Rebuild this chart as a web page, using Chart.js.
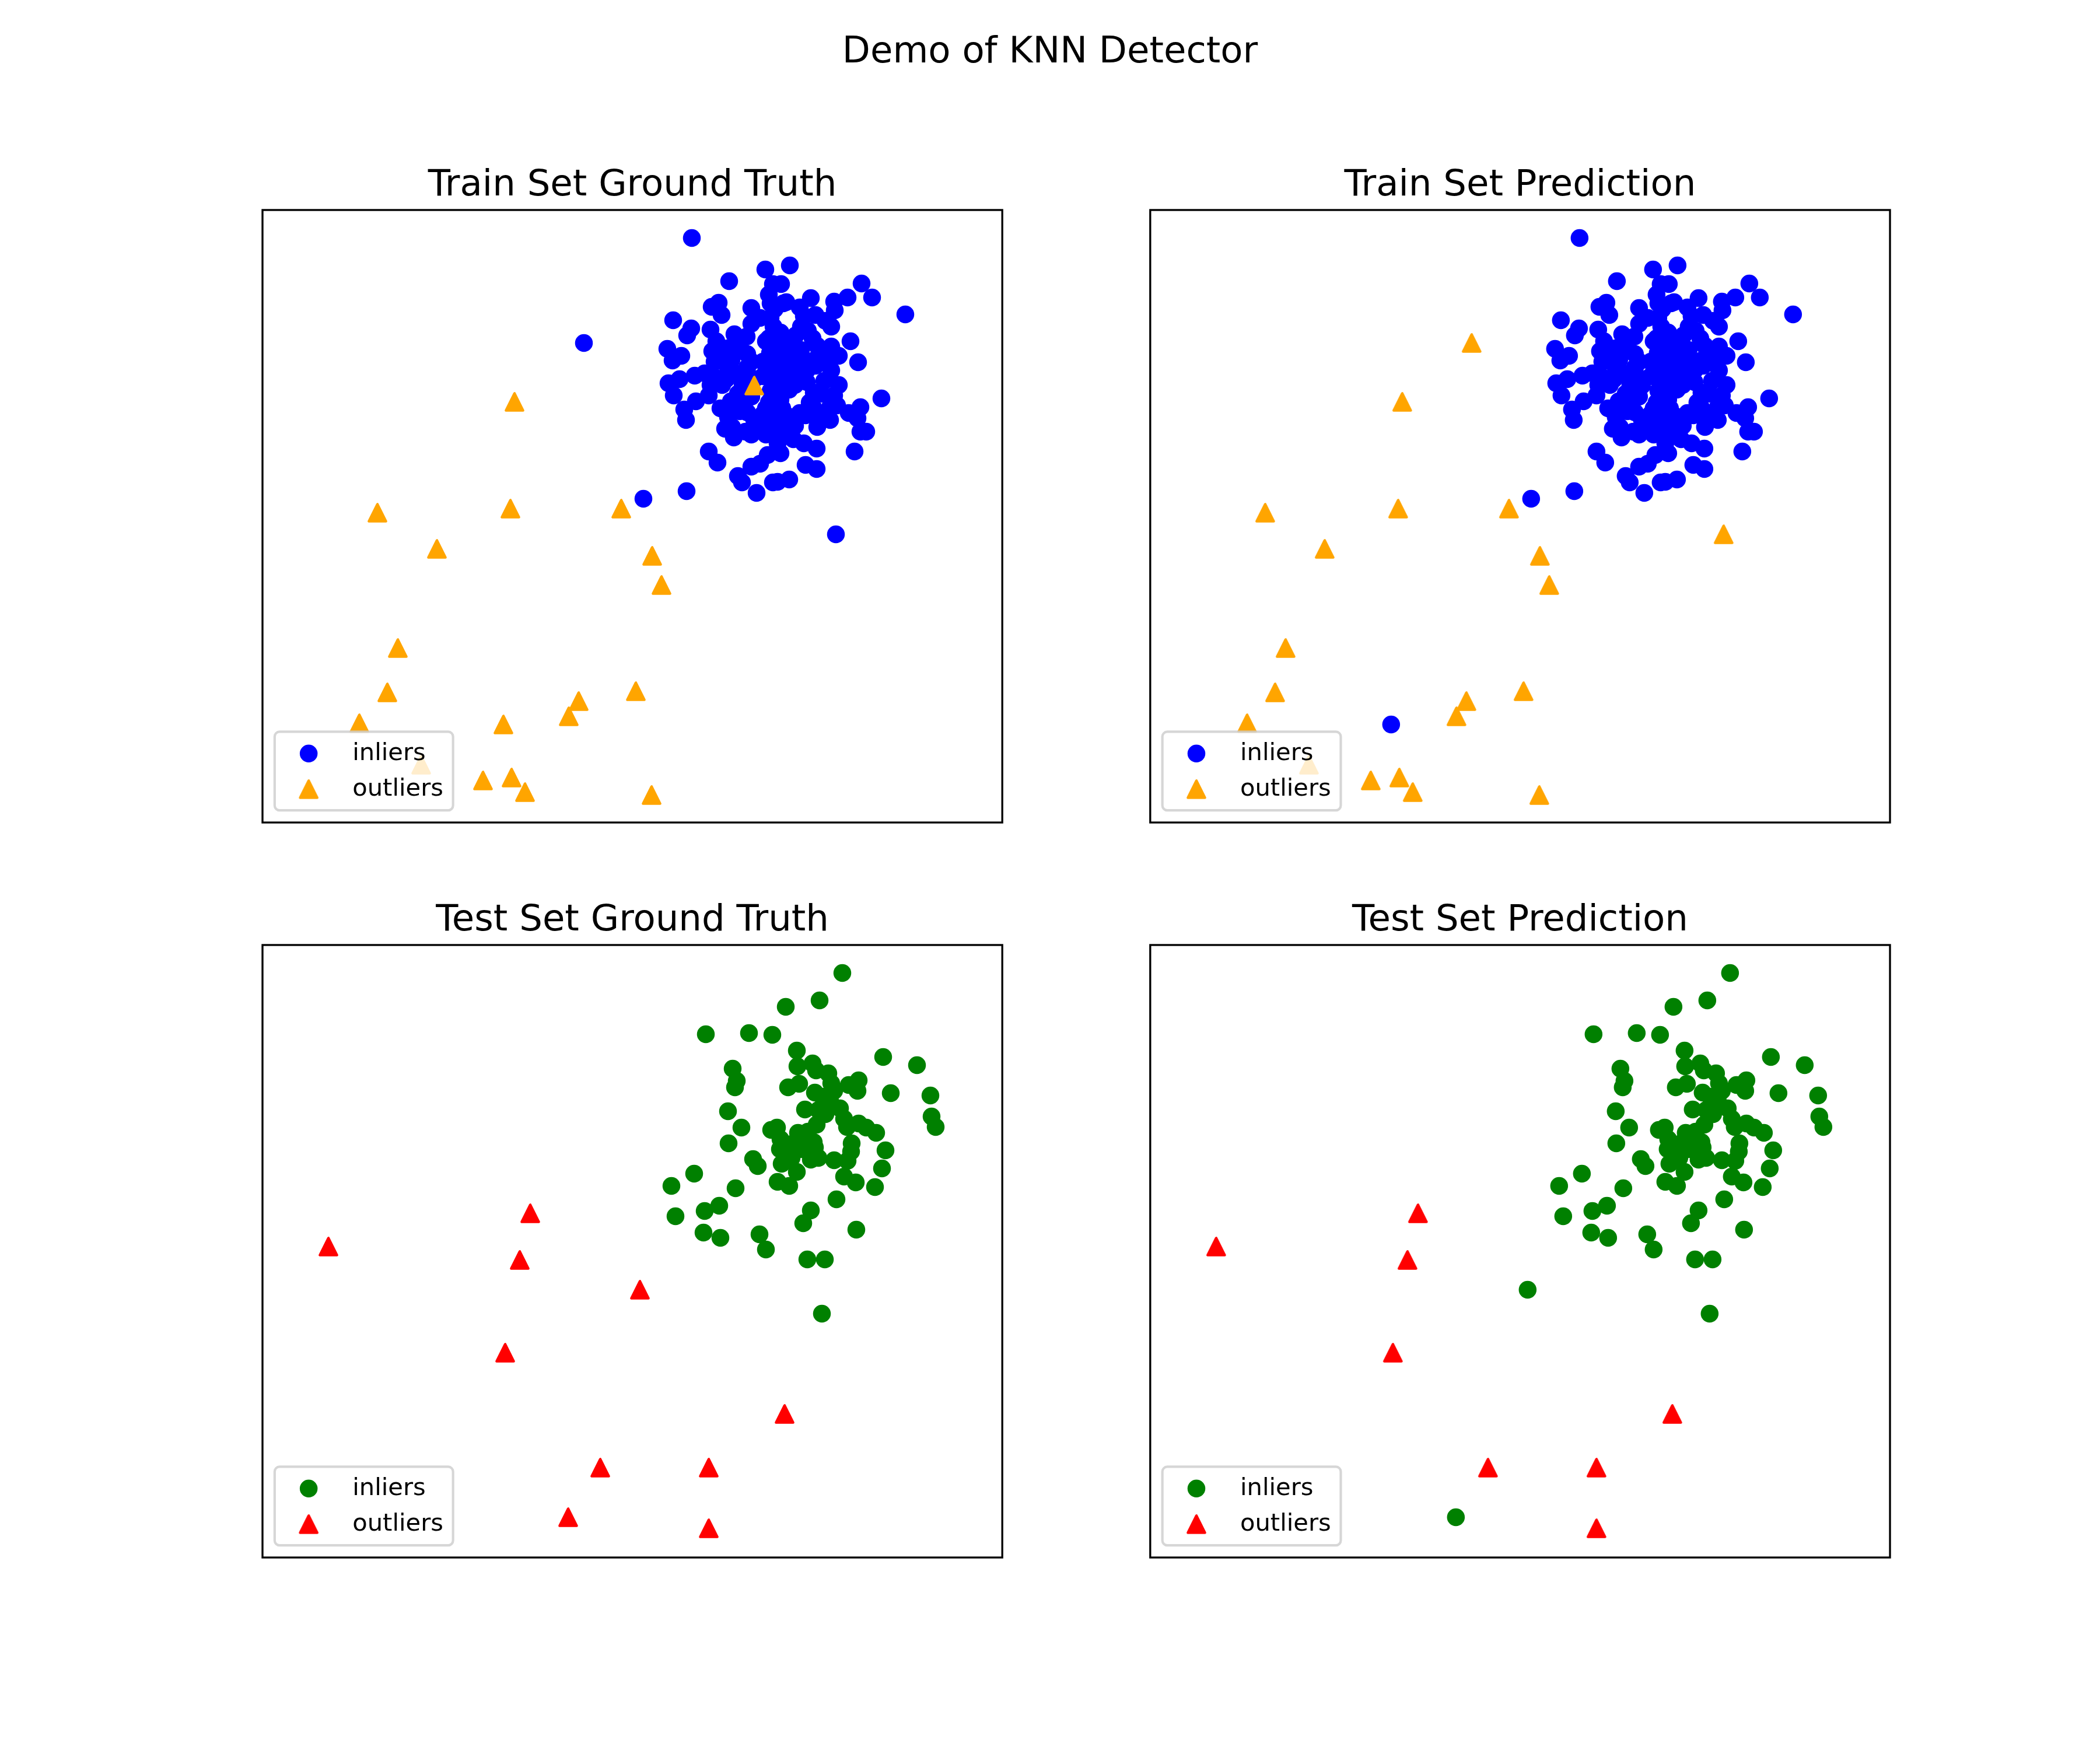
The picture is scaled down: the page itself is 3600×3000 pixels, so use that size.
<!DOCTYPE html>
<html>
<head>
<meta charset="utf-8">
<script src="https://cdn.jsdelivr.net/npm/chart.js@4.4.1/dist/chart.umd.min.js"></script>
<style>
  html, body { margin: 0; padding: 0; background: #ffffff; }
  #fig { position: relative; width: 3600px; height: 3000px; overflow: hidden; background: #ffffff; }
  #sup { position: absolute; left: 0; width: 3600px; text-align: center; color: #000;
         font-family: 'DejaVu Sans', 'Liberation Sans', sans-serif; line-height: 0; white-space: nowrap; }
  canvas { position: absolute; }
</style>
</head>
<body>
<div id="fig"><div id="sup"></div></div>
<script>
// ---------------- text ----------------
const figureTitle = 'Demo of KNN Detector';
const subplotTitles = ['Train Set Ground Truth', 'Train Set Prediction', 'Test Set Ground Truth', 'Test Set Prediction'];
const legendLabels = ['inliers', 'outliers'];

// ---------------- data (plot units, origin = lower-left corner of each axes box) ----------------
const xLimits = [0, 1268.2];
const yLimits = [0, 1050];

// training points whose ground truth is "inlier"
const trainInX = [
  736,862,800,838,770,782,787,704,735,728,
  768,809,830,694,718,703,831,778,771,798,
  818,775,804,868,875,871,871,868,870,858,
  904,889,1027,1045,1003,1102,940,980,981,898,
  921,928,965,975,1008,1021,906,935,951,975,
  921,945,881,878,876,888,914,878,653,727,
  765,780,815,822,847,838,853,866,875,805,
  828,851,831,858,785,803,815,765,743,723,
  726,696,705,715,741,795,811,831,871,875,
  788,823,773,1061,1025,1020,1025,1035,1005,980,
  973,985,1015,950,951,945,945,931,921,931,
  950,883,903,888,910,885,901,893,921,948,
  975,963,903,875,875,891,871,893,908,923,
  898,888,913,888,873,858,838,863,878,898,
  913,868,843,818,798,808,838,863,793,933,
  938,958,953,973,988,968,988,943,923,948,
  893,853,838,823,798,758,768,838,883,928,
  883,868,843,818,788,933,888,863,551,983
];
const trainInY = [
  1002,948,928,882,884,891,870,861,847,835,
  845,837,833,812,800,792,803,825,808,813,
  815,790,793,905,923,890,865,830,805,790,
  955,923,924,900,900,871,899,893,878,892,
  883,868,860,850,825,789,822,843,817,816,
  790,792,797,810,850,840,835,880,555,568,
  636,617,594,583,565,610,615,630,583,678,
  670,675,703,700,710,722,735,732,722,708,
  690,753,732,760,766,760,770,780,740,670,
  750,750,765,727,712,693,670,670,702,732,
  712,715,636,641,678,710,737,698,702,613,
  606,584,588,633,657,670,683,767,765,783,
  775,757,742,743,713,710,783,810,800,810,
  780,760,750,725,760,765,730,710,695,698,
  680,685,690,705,695,660,665,665,675,755,
  720,735,695,690,750,795,800,830,850,870,
  890,865,855,770,780,770,750,790,650,650,
  775,720,760,720,800,775,820,825,822,494
];
// training points whose ground truth is "outlier"
const trainOutX = [432,197,425,615,299,668,684,232,214,640,542,525,166,272,378,427,450,667,413,843];
const trainOutY = [721,531,538,538,469,457,407,299,223,225,208,182,170,99,72,77,52,47,168,749];
// KNN prediction disagreements (indices into the arrays above)
const trainInPredictedOut = [178, 179];
const trainOutPredictedIn = [18, 19];

// test points whose ground truth is "inlier"
const testInX = [
  897,760,834,874,916,917,806,813,810,901,
  920,798,930,821,872,882,918,799,888,994,
  955,1064,1122,1077,1145,1147,1154,943,949,1022,
  1020,1005,975,947,960,973,953,965,950,997,
  1002,1022,1035,1052,945,1010,1068,841,849,740,
  701,811,758,783,708,756,785,852,863,883,
  903,916,887,897,927,934,940,1062,1050,1009,
  1003,980,997,1017,984,1018,964,959,947,927,
  940,953,923,890,910,935,970,990,907,980
];
const testInY = [
  944,897,899,896,869,842,838,817,806,806,
  812,765,768,737,733,737,728,710,717,1002,
  955,858,844,796,792,756,738,847,835,818,
  800,810,813,797,790,783,767,760,742,752,
  738,744,737,728,712,710,698,683,671,658,
  637,633,594,603,585,557,548,554,528,644,
  637,661,700,687,573,511,595,667,635,696,
  680,681,653,643,614,562,511,418,703,713,
  682,685,700,675,710,730,830,770,685,800
];
// test points whose ground truth is "outlier"
const testOutX = [113,459,441,647,416,895,579,765,524,765];
const testOutY = [533,590,510,459,351,246,154,154,69,50];
const testInPredictedOut = [];
const testOutPredictedIn = [3, 8];

const colorsTrain = ['blue', 'orange'];
const colorsTest = ['green', 'red'];

// ---------------- style / layout (matplotlib defaults at 300 dpi) ----------------
const PT = 300 / 72;
const FONT = "'DejaVu Sans', 'Liberation Sans', sans-serif";
const TITLE_PX = 15 * PT;
const LEGEND_PX = 10 * PT;
const EDGE = 1.0 * PT;
const SPINE_W = 0.8 * PT;
const CIRCLE_R = (Math.sqrt(40) * PT + EDGE) / 2;
const TRI = Math.sqrt(50) * PT;
const AX_W = 3600 * 0.775 / 2.2;
const AX_H = 3000 * 0.77 / 2.2;
const TOPSPACE = 130, PAD = 40;

function triangleSprite(color) {
  const s = 44, c = document.createElement('canvas');
  c.width = s; c.height = s;
  const g = c.getContext('2d'), h = TRI / 2, m = s / 2;
  g.beginPath();
  g.moveTo(m, m - h); g.lineTo(m - h, m + h); g.lineTo(m + h, m + h); g.closePath();
  g.fillStyle = color; g.fill();
  g.lineWidth = EDGE; g.lineJoin = 'round'; g.strokeStyle = color; g.stroke();
  return c;
}

function measure(px, txt) {
  const c = document.createElement('canvas').getContext('2d');
  c.font = `normal ${px}px ${FONT}`;
  c.textBaseline = 'middle';
  const mid = c.measureText(txt).actualBoundingBoxAscent;
  c.textBaseline = 'alphabetic';
  const m = c.measureText(txt);
  return { midToBase: m.actualBoundingBoxAscent - mid, asc: m.fontBoundingBoxAscent, desc: m.fontBoundingBoxDescent };
}

// suptitle
const sup = document.getElementById('sup');
sup.textContent = figureTitle;
sup.style.fontSize = TITLE_PX + 'px';
const supM = measure(TITLE_PX, figureTitle);
sup.style.top = (107 - (supM.asc - supM.desc) / 2) + 'px';

function drawMarker(ctx, d, x, y) {
  if (d.pointStyle instanceof HTMLCanvasElement) {
    ctx.drawImage(d.pointStyle, x - d.pointStyle.width / 2, y - d.pointStyle.height / 2);
  } else {
    ctx.beginPath(); ctx.arc(x, y, d.pointRadius, 0, Math.PI * 2);
    ctx.fillStyle = d.pointBackgroundColor; ctx.fill();
  }
}

const axesDecor = {
  id: 'axesDecor',
  afterDatasetsDraw(chart) {
    const ctx = chart.ctx, a = chart.chartArea;
    ctx.save();
    ctx.lineWidth = SPINE_W; ctx.strokeStyle = '#000';
    ctx.strokeRect(a.left, a.top, a.right - a.left, a.bottom - a.top);
    const fs = LEGEND_PX, items = chart.data.datasets;
    ctx.font = `normal ${fs}px ${FONT}`;
    const textW = Math.max(...items.map(d => ctx.measureText(d.label).width));
    const bp = 0.4 * fs, bap = 0.5 * fs, hl = 2 * fs, htp = 0.8 * fs, ls = 0.5 * fs;
    const rowH = 0.967 * fs, desc = 0.209 * fs;
    const w = 2 * bp + hl + htp + textW;
    const h = 2 * bp + items.length * rowH + (items.length - 1) * ls;
    const x0 = a.left + bap, y0 = a.bottom - bap - h;
    ctx.beginPath();
    if (ctx.roundRect) ctx.roundRect(x0, y0, w, h, 0.2 * fs); else ctx.rect(x0, y0, w, h);
    ctx.fillStyle = 'rgba(255,255,255,0.8)'; ctx.fill();
    ctx.lineWidth = PT; ctx.strokeStyle = 'rgba(204,204,204,0.8)'; ctx.stroke();
    items.forEach((d, i) => {
      const base = y0 + bp + rowH - desc + i * (rowH + ls);
      drawMarker(ctx, d, x0 + bp + hl / 2, base - 0.375 * 0.7 * fs);
      ctx.fillStyle = '#000'; ctx.textAlign = 'left'; ctx.textBaseline = 'alphabetic';
      ctx.fillText(d.label, x0 + bp + hl + htp, base);
    });
    ctx.restore();
  }
};

function buildDatasets(isTrain, isPred) {
  const inX = isTrain ? trainInX : testInX, inY = isTrain ? trainInY : testInY;
  const outX = isTrain ? trainOutX : testOutX, outY = isTrain ? trainOutY : testOutY;
  const inFlip = isTrain ? trainInPredictedOut : testInPredictedOut;
  const outFlip = isTrain ? trainOutPredictedIn : testOutPredictedIn;
  const cols = isTrain ? colorsTrain : colorsTest;
  const inl = [], out = [];
  inX.forEach((x, i) => { const p = { x, y: inY[i] }; (isPred && inFlip.includes(i) ? out : inl).push(p); });
  outX.forEach((x, i) => { const p = { x, y: outY[i] }; (isPred && outFlip.includes(i) ? inl : out).push(p); });
  return [
    { label: legendLabels[0], data: inl, order: 1, pointStyle: 'circle', pointRadius: CIRCLE_R, pointHoverRadius: CIRCLE_R,
      pointBackgroundColor: cols[0], pointBorderColor: cols[0], pointBorderWidth: 0, pointHoverBorderWidth: 0 },
    { label: legendLabels[1], data: out, order: 0, pointStyle: triangleSprite(cols[1]), pointRadius: TRI / 2, pointHoverRadius: TRI / 2,
      pointBackgroundColor: cols[1], pointBorderColor: cols[1], pointBorderWidth: 0, pointHoverBorderWidth: 0 }
  ];
}

const titleM = measure(TITLE_PX, subplotTitles[0]);
const lineH = 1.2 * TITLE_PX;
const titlePadTop = (TOPSPACE - 6 * PT) - titleM.midToBase - lineH / 2;
const titlePadBottom = TOPSPACE - lineH - titlePadTop;

const fig = document.getElementById('fig');
[0, 1, 2, 3].forEach(k => {
  const col = k % 2, row = Math.floor(k / 2);
  const axL = 3600 * 0.125 + col * 1.2 * AX_W;
  const axT = 3000 * 0.12 + row * 1.2 * AX_H;
  const cL = Math.floor(axL) - PAD, cT = Math.round(axT) - TOPSPACE;
  const cW = Math.ceil(AX_W) + 2 * PAD + 2, cH = Math.round(TOPSPACE + AX_H + PAD);
  const padL = axL - cL, padR = cW - padL - AX_W, padB = cH - TOPSPACE - AX_H;
  const cv = document.createElement('canvas');
  cv.width = cW; cv.height = cH;
  cv.style.left = cL + 'px'; cv.style.top = cT + 'px';
  fig.appendChild(cv);
  new Chart(cv, {
    type: 'scatter',
    data: { datasets: buildDatasets(row === 0, col === 1) },
    options: {
      responsive: false, animation: false, devicePixelRatio: 1, events: [],
      layout: { autoPadding: false, padding: { left: padL, right: padR, top: 0, bottom: padB } },
      scales: {
        x: { type: 'linear', min: xLimits[0], max: xLimits[1], display: false },
        y: { type: 'linear', min: yLimits[0], max: yLimits[1], display: false }
      },
      plugins: {
        legend: { display: false },
        tooltip: { enabled: false },
        title: { display: true, text: subplotTitles[k], color: '#000',
                 font: { family: FONT, size: TITLE_PX, weight: 'normal', lineHeight: 1.2 },
                 padding: { top: titlePadTop, bottom: titlePadBottom } }
      }
    },
    plugins: [axesDecor]
  });
});
</script>
</body>
</html>
